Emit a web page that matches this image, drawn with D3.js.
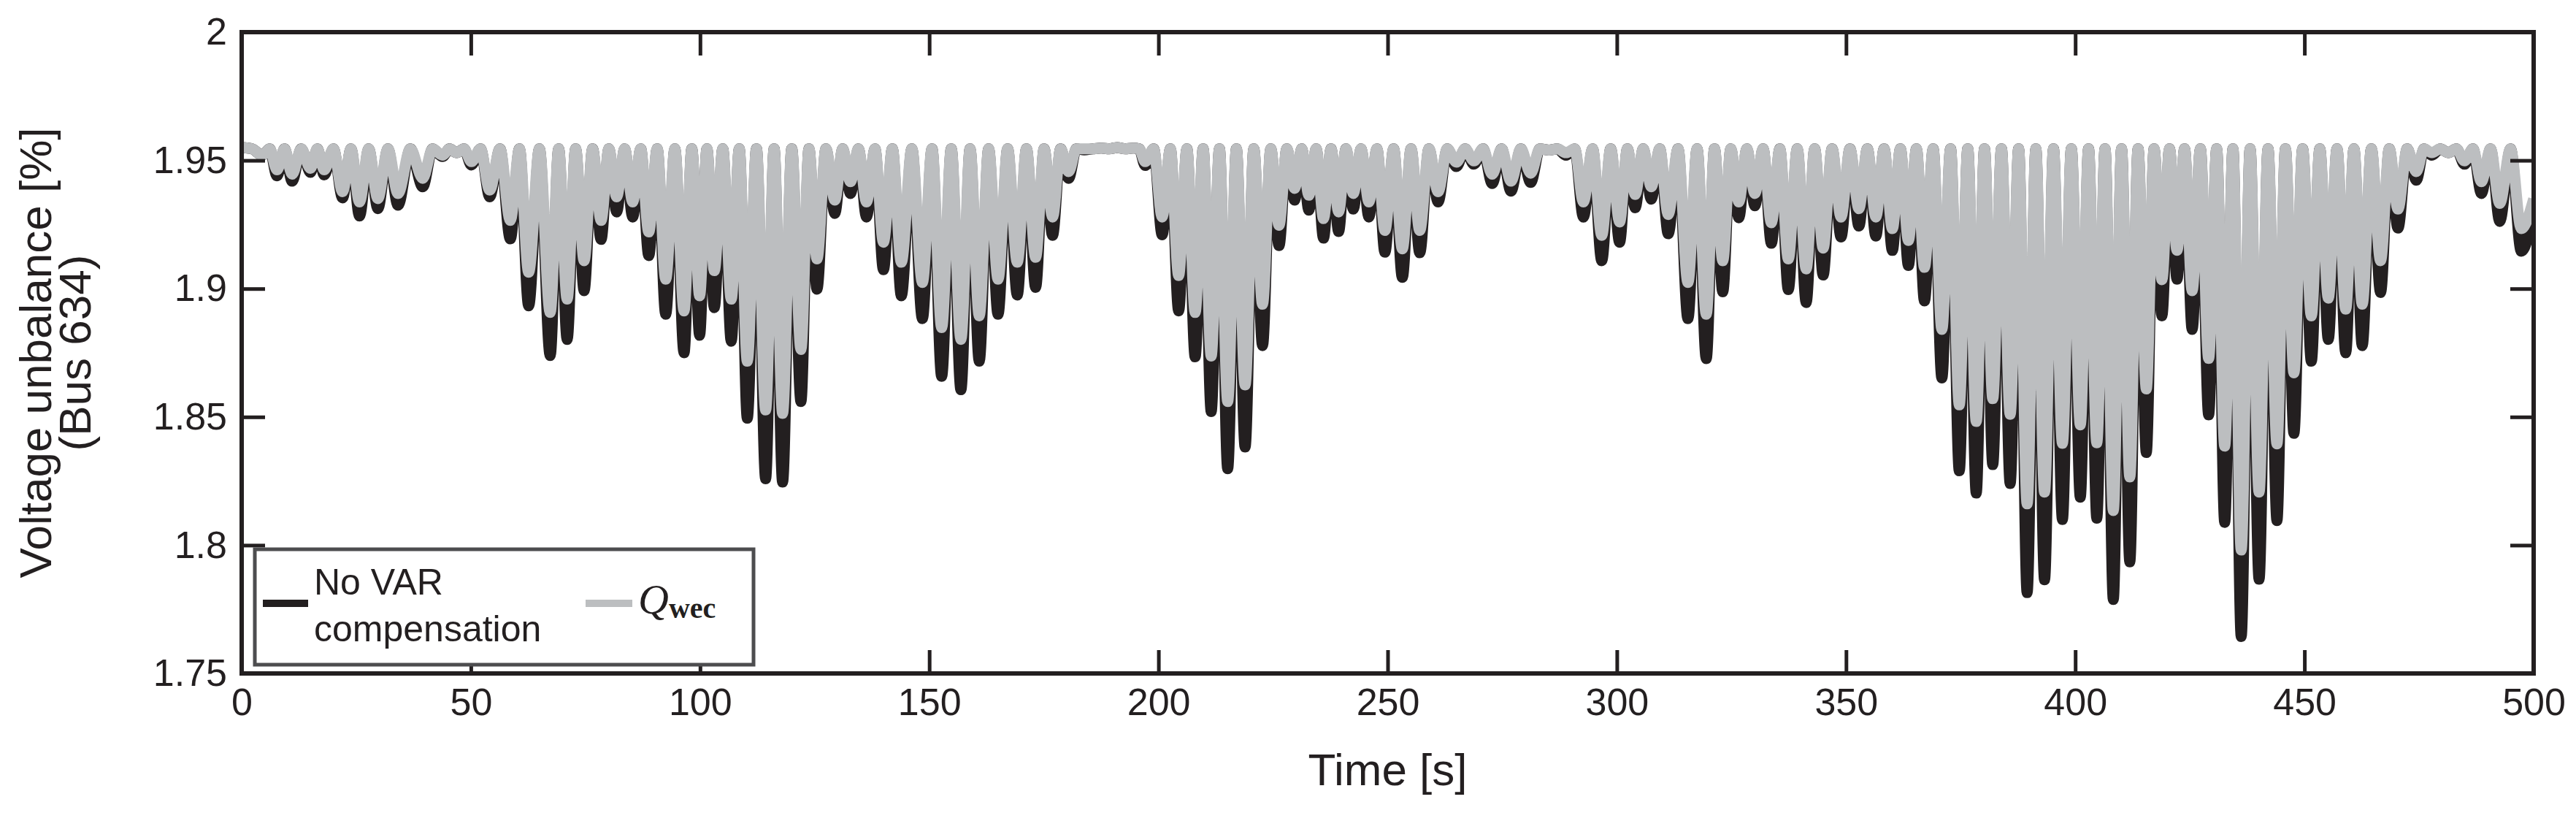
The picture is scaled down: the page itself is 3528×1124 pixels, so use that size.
<!DOCTYPE html>
<html><head><meta charset="utf-8">
<script src="https://cdn.jsdelivr.net/npm/d3@7"></script>
<style>body{margin:0;background:#fff}svg{display:block}text{font-family:"Liberation Sans",Arial,sans-serif}</style>
</head><body>
<script>
// trough times [s] and trough values [%]; peaks lie at ~1.954
const troughTime = [4.5,7.7,11.0,15.0,18.0,22.0,25.7,29.7,34.1,39.5,43.8,46.9,50.1,54.1,58.6,62.6,67.3,71.0,74.7,78.4,81.8,85.3,88.8,92.5,96.5,99.9,103.1,106.8,110.3,114.3,118.0,122.0,125.5,129.4,132.8,136.3,140.0,143.9,148.5,152.7,156.9,160.9,165.0,169.2,173.2,176.9,180.4,183.8,187.5,191.0,194.5,197.1,200.8,204.4,208.0,211.5,215.1,218.9,222.7,226.3,229.7,232.8,236.0,239.3,242.5,245.9,249.4,253.2,257.0,261.0,265.0,268.8,272.8,276.9,281.2,285.2,288.9,292.7,296.7,300.6,304.0,307.5,311.2,315.5,319.5,323.1,326.6,330.1,333.7,337.4,341.3,345.0,348.9,352.8,356.5,360.1,363.6,367.1,370.9,374.7,378.4,382.0,385.8,389.5,393.3,397.2,401.1,404.7,408.3,411.9,415.5,418.9,422.2,425.5,429.1,432.6,436.2,440.1,444.0,447.7,451.5,455.2,459.0,462.6,466.6,470.4,474.4,477.8,481.4,484.9,488.6,492.6,497.3];
const noVarMin = [1.952,1.9440,1.9419,1.9453,1.9443,1.9354,1.9283,1.9312,1.9325,1.9397,1.9515,1.953,1.9482,1.9358,1.9194,1.8933,1.8739,1.8802,1.8992,1.9192,1.9299,1.9279,1.9129,1.8900,1.8750,1.8818,1.8926,1.8795,1.8495,1.8259,1.8246,1.8560,1.8998,1.9293,1.9371,1.9279,1.9074,1.8972,1.8883,1.8658,1.8606,1.8717,1.8900,1.8975,1.9005,1.9208,1.9430,1.9541,1.9548,1.9550,1.9548,1.9480,1.9210,1.8913,1.8734,1.8521,1.8298,1.8383,1.8778,1.9168,1.9345,1.9306,1.9197,1.9223,1.9310,1.9279,1.9142,1.9044,1.9140,1.9338,1.9476,1.9485,1.9410,1.9380,1.9414,1.954,1.952,1.9279,1.9109,1.9181,1.9315,1.9349,1.9214,1.8883,1.8727,1.8988,1.9276,1.9323,1.9177,1.8996,1.8946,1.9053,1.9201,1.9244,1.9205,1.9149,1.9090,1.8952,1.8652,1.8290,1.8203,1.8314,1.8240,1.7815,1.7865,1.8100,1.8187,1.8105,1.7788,1.7935,1.8361,1.8894,1.9037,1.8841,1.8508,1.8089,1.7644,1.7867,1.8096,1.8436,1.8717,1.8802,1.8750,1.8778,1.8985,1.9236,1.9423,1.952,1.953,1.9485,1.9371,1.9262,1.9146];
const qwecMin = [1.952,1.9463,1.9446,1.9469,1.9463,1.9378,1.9338,1.9351,1.9371,1.9430,1.952,1.953,1.9495,1.9384,1.9266,1.9064,1.8907,1.8959,1.9109,1.9266,1.9358,1.9338,1.9221,1.9037,1.8913,1.8972,1.9070,1.8959,1.8717,1.8527,1.8514,1.8763,1.9116,1.9345,1.9417,1.9338,1.9181,1.9103,1.9024,1.8848,1.8802,1.8894,1.9037,1.9103,1.9122,1.9279,1.9456,1.9545,1.9548,1.9550,1.9548,1.9495,1.9279,1.9051,1.8907,1.8737,1.8560,1.8625,1.8939,1.9247,1.9391,1.9364,1.9273,1.9299,1.9371,1.9338,1.9227,1.9155,1.9227,1.9378,1.9493,1.9498,1.9446,1.9419,1.9450,1.954,1.953,1.9338,1.9208,1.9260,1.9367,1.9397,1.9289,1.9024,1.8900,1.9109,1.9338,1.9371,1.9257,1.9116,1.9077,1.9158,1.9279,1.9312,1.9279,1.9234,1.9188,1.9083,1.8841,1.8547,1.8482,1.8571,1.8510,1.8161,1.8207,1.8397,1.8469,1.8399,1.8135,1.8266,1.8609,1.9035,1.9149,1.8992,1.8728,1.8386,1.7981,1.8207,1.8395,1.8672,1.8894,1.8963,1.8920,1.8939,1.9109,1.9310,1.9456,1.953,1.953,1.9498,1.9417,1.9332,1.9234];
const peakValue = 1.9545;
const startValue = 1.955;
const endNoVar = 1.930, endQwec = 1.935;
const xTicks = [0,50,100,150,200,250,300,350,400,450,500];
const yTicks = [1.75,1.8,1.85,1.9,1.95,2];

const W=3528,H=1124;
const L=331,R=3470,T=44,B=922;
const svg=d3.select("body").append("svg").attr("width",W).attr("height",H);
const x=d3.scaleLinear().domain([0,500]).range([L,R]);
const y=d3.scaleLinear().domain([1.75,2]).range([B,T]);

function build(mins,endV){
  const pts=[[0,startValue]];
  let prev=0;
  troughTime.forEach((t,i)=>{
    pts.push([(prev+t)/2,peakValue]);
    pts.push([t,mins[i]]);
    prev=t;
  });
  pts.push([500,endV]);
  return pts;
}
svg.append("defs").append("clipPath").attr("id","c").append("rect")
  .attr("x",L).attr("y",T).attr("width",R-L).attr("height",B-T);
const line=d3.line().x(d=>x(d[0])).y(d=>y(d[1])).curve(d3.curveMonotoneX);
const g=svg.append("g").attr("clip-path","url(#c)");
g.append("path").attr("d",line(build(noVarMin,endNoVar))).attr("fill","none").attr("stroke","#231f20").attr("stroke-width",15).attr("stroke-linejoin","round");
g.append("path").attr("d",line(build(qwecMin,endQwec))).attr("fill","none").attr("stroke","#bcbec0").attr("stroke-width",15).attr("stroke-linejoin","round");

// axes
const fs=52;
const xb=svg.append("g").attr("transform",`translate(0,${B})`).call(d3.axisBottom(x).tickValues(xTicks).tickFormat(d3.format("d")).tickSize(-32).tickPadding(20));
const xt=svg.append("g").attr("transform",`translate(0,${T})`).call(d3.axisTop(x).tickValues(xTicks).tickFormat("").tickSize(-32));
const yl=svg.append("g").attr("transform",`translate(${L},0)`).call(d3.axisLeft(y).tickValues(yTicks).tickFormat(d=>d===2?"2":d3.format(".2f")(d).replace(/0$/,"")).tickSize(-32).tickPadding(20));
const yr=svg.append("g").attr("transform",`translate(${R},0)`).call(d3.axisRight(y).tickValues(yTicks).tickFormat("").tickSize(-32));
[xb,xt,yl,yr].forEach(a=>{a.select(".domain").remove();a.selectAll("line").attr("stroke","#231f20").attr("stroke-width",5);
  a.selectAll("text").attr("font-size",fs).attr("fill","#231f20").style("font-family","Liberation Sans, Arial, sans-serif");});
svg.append("rect").attr("x",L).attr("y",T).attr("width",R-L).attr("height",B-T).attr("fill","none").attr("stroke","#231f20").attr("stroke-width",6);

svg.append("text").attr("x",(L+R)/2).attr("y",1075).attr("text-anchor","middle").attr("font-size",62).attr("fill","#231f20").text("Time [s]");
const yl1=svg.append("text").attr("transform",`translate(70,${(T+B)/2}) rotate(-90)`).attr("text-anchor","middle").attr("font-size",62).attr("fill","#231f20");
yl1.append("tspan").attr("x",0).attr("dy",0).text("Voltage unbalance [%]");
yl1.append("tspan").attr("x",0).attr("dy",54).text("(Bus 634)");

// legend
const lg=svg.append("g");
lg.append("rect").attr("x",349).attr("y",752).attr("width",683).attr("height",158).attr("fill","#fff").attr("stroke","#4d4d4f").attr("stroke-width",5);
lg.append("line").attr("x1",360).attr("x2",422).attr("y1",826).attr("y2",826).attr("stroke","#231f20").attr("stroke-width",10);
lg.append("text").attr("x",430).attr("y",814).attr("font-size",50).attr("fill","#231f20").text("No VAR");
lg.append("text").attr("x",430).attr("y",878).attr("font-size",50).attr("fill","#231f20").text("compensation");
lg.append("line").attr("x1",802).attr("x2",866).attr("y1",826).attr("y2",826).attr("stroke","#bcbec0").attr("stroke-width",10);
const q=lg.append("text").attr("x",874).attr("y",840).attr("fill","#231f20").style("font-family","Liberation Serif, DejaVu Serif, serif");
q.append("tspan").attr("font-size",58).attr("font-style","italic").text("Q");
q.append("tspan").attr("font-size",40).attr("font-weight","bold").attr("dy",6).text("wec");
</script>
</body></html>
